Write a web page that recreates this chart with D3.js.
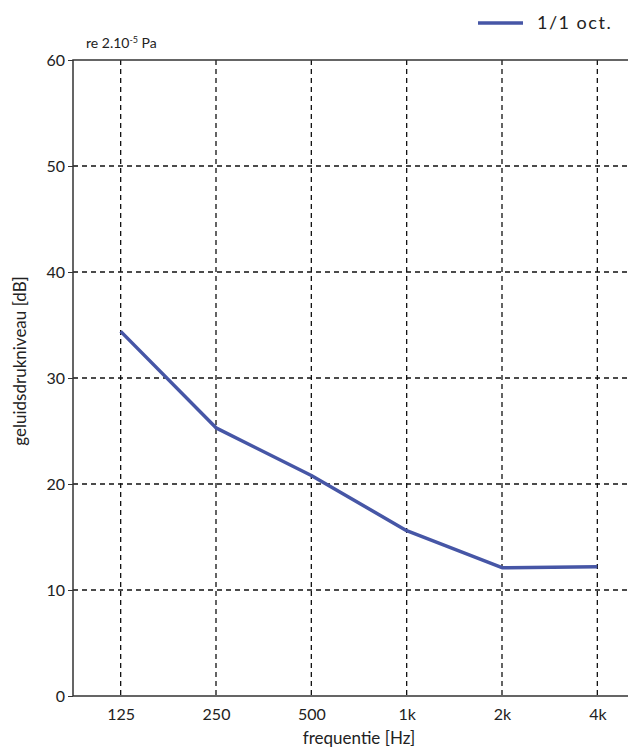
<!DOCTYPE html>
<html>
<head>
<meta charset="utf-8">
<script src="https://cdn.jsdelivr.net/npm/d3@7"></script>
<style>
  body { margin: 0; background: #fff; overflow: hidden; }
  text { font-family: Lato, "Open Sans", sans-serif; fill: #222; }
</style>
</head>
<body>
<svg id="chart" width="628" height="749"></svg>
<script>
const bands = ['125', '250', '500', '1k', '2k', '4k']
const levels = [34.4, 25.3, 20.8, 15.6, 12.1, 12.2]
const yTicks = [0, 10, 20, 30, 40, 50, 60]

const width = 628
const height = 749
const margin = { top: 60, right: -17, bottom: 53, left: 73 }

const svg = d3.select('#chart')

const x = d3.scalePoint()
  .domain(bands)
  .range([margin.left, width - margin.right])
  .padding(0.5)

const y = d3.scaleLinear()
  .domain([0, 60])
  .range([height - margin.bottom, margin.top])

// grid
const grid = svg.append('g')
  .attr('stroke', '#111')
  .attr('stroke-width', 1.3)
  .attr('stroke-dasharray', '5,4')

grid.selectAll('.vgrid')
  .data(bands)
  .enter()
  .append('line')
  .attr('x1', (d) => x(d))
  .attr('x2', (d) => x(d))
  .attr('y1', y(60))
  .attr('y2', y(0))

grid.selectAll('.hgrid')
  .data(yTicks.filter((d) => d > 0 && d < 60))
  .enter()
  .append('line')
  .attr('x1', margin.left)
  .attr('x2', width)
  .attr('y1', (d) => y(d))
  .attr('y2', (d) => y(d))

// frame: left, top, bottom
svg.append('path')
  .attr('d', `M${width} ${y(60)} H${margin.left} V${y(0)} H${width}`)
  .attr('fill', 'none')
  .attr('stroke', '#333')
  .attr('stroke-width', 1.5)

// y axis
const yAxis = svg.append('g')
  .attr('transform', `translate(${margin.left},0)`)
  .call(d3.axisLeft(y).tickValues(yTicks).tickSize(5).tickPadding(3))
yAxis.select('.domain').remove()
yAxis.selectAll('line').attr('stroke', '#333')
yAxis.selectAll('text')
  .style('font-size', '16px')
  .attr('fill', '#222')

// x axis
const xAxis = svg.append('g')
  .attr('transform', `translate(0,${y(0)})`)
  .call(d3.axisBottom(x).tickSize(0).tickPadding(13))
xAxis.select('.domain').remove()
xAxis.selectAll('text')
  .style('font-size', '16px')
  .attr('fill', '#222')

// the curve
const line = d3.line()
  .x((d, i) => x(bands[i]))
  .y((d) => y(d))

svg.append('path')
  .datum(levels)
  .attr('d', line)
  .attr('fill', 'none')
  .attr('stroke', '#4656a6')
  .attr('stroke-width', 3.5)
  .attr('stroke-linejoin', 'round')

// labels
svg.append('text')
  .attr('transform', `translate(26,361) rotate(-90)`)
  .attr('text-anchor', 'middle')
  .style('font-size', '17px')
  .text('geluidsdrukniveau [dB]')

svg.append('text')
  .attr('x', (x('500') + x('1k')) / 2)
  .attr('y', 744)
  .attr('text-anchor', 'middle')
  .style('font-size', '17px')
  .text('frequentie [Hz]')

const ref = svg.append('text')
  .attr('x', 86)
  .attr('y', 48)
  .style('font-size', '14px')
ref.append('tspan').text('re 2.10')
ref.append('tspan').attr('dy', -5).style('font-size', '9px').text('-5')
ref.append('tspan').attr('dy', 5).text(' Pa')

// legend
svg.append('line')
  .attr('x1', 478)
  .attr('x2', 523)
  .attr('y1', 23)
  .attr('y2', 23)
  .attr('stroke', '#4656a6')
  .attr('stroke-width', 3.5)

svg.append('text')
  .attr('x', 537)
  .attr('y', 29)
  .style('font-size', '18px')
  .style('letter-spacing', '1.5px')
  .text('1/1 oct.')
</script>
</body>
</html>
